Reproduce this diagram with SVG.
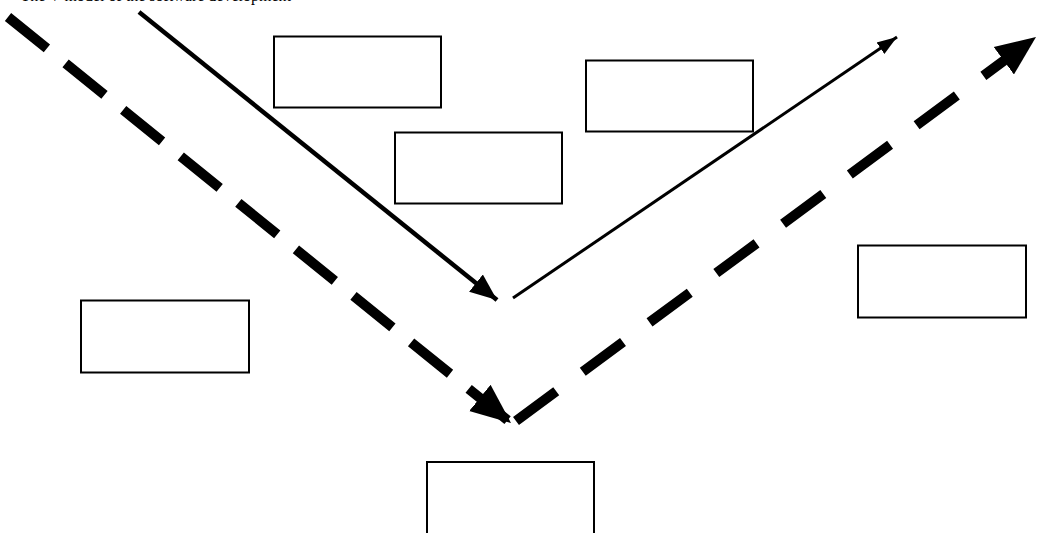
<svg xmlns="http://www.w3.org/2000/svg" width="1039" height="533" viewBox="0 0 1039 533">
<style>
.box{fill:#fff;stroke:#000;stroke-width:2}
.lbl{font-family:"Liberation Serif",serif;font-size:16px;fill:#000}
</style>
<defs>
<marker id="ahBig" markerUnits="userSpaceOnUse" markerWidth="44" markerHeight="44" refX="40" refY="22" orient="auto" viewBox="0 0 44 44">
<path d="M0,5 L40,22 L0,39 Z" fill="#000"/>
</marker>
<marker id="ahMid" markerUnits="userSpaceOnUse" markerWidth="30" markerHeight="30" refX="27" refY="15" orient="auto" viewBox="0 0 30 30">
<path d="M0,4 L27,15 L0,26 Z" fill="#000"/>
</marker>
<marker id="ahSmall" markerUnits="userSpaceOnUse" markerWidth="24" markerHeight="24" refX="20" refY="12" orient="auto" viewBox="0 0 24 24">
<path d="M0,5 L20,12 L0,19 Z" fill="#000"/>
</marker>
</defs>
<rect width="1039" height="533" fill="#fff"/>
<text class="lbl" x="291" y="1" text-anchor="end">The V-model of the software development</text>
<g id="connectors">
<line x1="139" y1="12" x2="497" y2="300" stroke="#000" stroke-width="4.5" marker-end="url(#ahMid)"/>
<line x1="513" y1="298" x2="897" y2="37" stroke="#000" stroke-width="3" marker-end="url(#ahSmall)"/>
<line x1="8" y1="17" x2="511" y2="423" stroke="#000" stroke-width="10" stroke-dasharray="50 24" marker-end="url(#ahBig)"/>
<line x1="516" y1="421" x2="1036" y2="37" stroke="#000" stroke-width="10" stroke-dasharray="50 33" marker-end="url(#ahBig)"/>
</g>
<g id="box1"><rect class="box" x="274" y="36.5" width="167" height="71"/></g>
<g id="box2"><rect class="box" x="586" y="60.5" width="167" height="71"/></g>
<g id="box3"><rect class="box" x="395" y="132.5" width="167" height="71"/></g>
<g id="box4"><rect class="box" x="858" y="245.5" width="168" height="72"/></g>
<g id="box5"><rect class="box" x="81" y="300.5" width="168" height="72"/></g>
<g id="box6"><rect class="box" x="427" y="462" width="167" height="90"/></g>
</svg>
